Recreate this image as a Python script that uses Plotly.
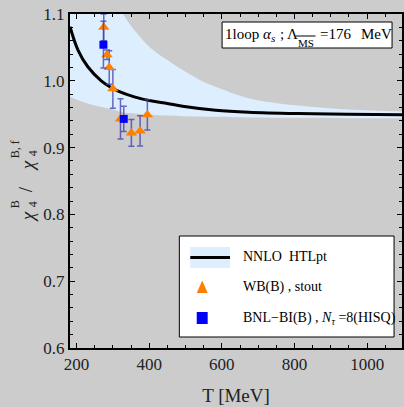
import plotly.graph_objects as go

# ---------------- data ----------------
band_T = [182, 200, 225, 250, 275, 300, 328, 359, 404, 450, 492, 537, 583, 674, 810, 947, 1096]
band_upper = [1.40, 1.33, 1.26, 1.20, 1.16, 1.13, 1.100, 1.076, 1.049, 1.031, 1.016, 1.002, 0.991, 0.974, 0.963, 0.957, 0.954]
band_lower = [0.976, 0.972, 0.967, 0.963, 0.960, 0.957, 0.953, 0.951, 0.949, 0.948, 0.947, 0.9465, 0.946, 0.945, 0.9445, 0.944, 0.944]

line_T = [182, 204, 231, 268, 295, 313, 359, 404, 450, 492, 583, 674, 810, 947, 1096]
line_val = [1.081, 1.046, 1.021, 1.000, 0.990, 0.985, 0.976, 0.970, 0.966, 0.962, 0.956, 0.953, 0.951, 0.950, 0.949]

wb_T = [275, 284, 290, 300, 321, 351, 375, 395]
wb_val = [1.080, 1.039, 1.020, 0.988, 0.943, 0.922, 0.925, 0.949]
wb_err = [0.020, 0.007, 0.025, 0.029, 0.030, 0.020, 0.0225, 0.0225]

bnl_T = [274, 330]
bnl_val = [1.054, 0.943]
bnl_err = [0.035, 0.019]

x_ticks = [200, 400, 600, 800, 1000]
y_ticks = [0.6, 0.7, 0.8, 0.9, 1.0, 1.1]

# ---------------- layout helpers ----------------
W, H = 404, 407
L, R, T, B = 70, 404, 14, 348
SERIF = "Liberation Serif"
BG = "#cccccc"
BAND = "#ddeeff"
ORANGE = "#ff8000"
ERRC = "rgba(60,60,170,0.75)"


def px(x):
    return (x - L) / (R - L)


def py(y):
    return (B - y) / (B - T)


fig = go.Figure()

fig.add_trace(go.Scatter(x=band_T, y=band_lower, mode="lines", line=dict(width=0, shape="spline"),
                         hoverinfo="skip", showlegend=False))
fig.add_trace(go.Scatter(x=band_T, y=band_upper, mode="lines", line=dict(width=0, shape="spline"),
                         fill="tonexty", fillcolor=BAND, hoverinfo="skip", showlegend=False))
fig.add_trace(go.Scatter(x=line_T, y=line_val, mode="lines", line=dict(color="black", width=3, shape="spline"),
                         showlegend=False))
fig.add_trace(go.Scatter(x=wb_T, y=wb_val, mode="markers",
                         marker=dict(symbol="triangle-up", size=10, color=ORANGE, line=dict(width=0)),
                         error_y=dict(type="data", array=wb_err, color=ERRC, thickness=1.5, width=3),
                         showlegend=False))
fig.add_trace(go.Scatter(x=bnl_T, y=bnl_val, mode="markers",
                         marker=dict(symbol="square", size=8, color="#0000ff", line=dict(width=0)),
                         error_y=dict(type="data", array=bnl_err, color=ERRC, thickness=1.5, width=3),
                         showlegend=False))

shapes = []
annos = []

# top-right info box
shapes.append(dict(type="rect", xref="paper", yref="paper", x0=px(223), x1=px(394), y0=py(22), y1=py(48),
                   fillcolor="white", line=dict(color="black", width=1), layer="above"))
boxfont = dict(family=SERIF, size=15, color="black")
subfont = dict(family=SERIF, size=11, color="black")
box_pieces = [
    ("1loop", 224, 33.5, boxfont),
    ("<i>α</i>", 262, 33.5, boxfont),
    ("<i>s</i>", 270, 38, subfont),
    (";", 279, 33.5, boxfont),
    ("Λ", 286, 33.5, boxfont),
    ("MS", 297, 43, subfont),
    ("=176", 319, 33.5, boxfont),
    ("MeV", 361, 33.5, boxfont),
]
for txt, x, y, f in box_pieces:
    annos.append(dict(xref="paper", yref="paper", x=px(x), y=py(y), xanchor="left", yanchor="middle",
                      showarrow=False, text=txt, font=f))
# overline over MS
shapes.append(dict(type="line", xref="paper", yref="paper", x0=px(297), x1=px(317), y0=py(36), y1=py(36),
                   line=dict(color="black", width=1), layer="above"))

# legend box
shapes.append(dict(type="rect", xref="paper", yref="paper", x0=px(180), x1=px(396), y0=py(236), y1=py(337),
                   fillcolor="white", line=dict(color="black", width=1), layer="above"))
shapes.append(dict(type="rect", xref="paper", yref="paper", x0=px(191), x1=px(231), y0=py(247), y1=py(268),
                   fillcolor=BAND, line=dict(width=0), layer="above"))
shapes.append(dict(type="line", xref="paper", yref="paper", x0=px(191), x1=px(231), y0=py(257.5), y1=py(257.5),
                   line=dict(color="black", width=3), layer="above"))
# legend triangle
tx, ty = 203, 287
shapes.append(dict(type="path", xref="paper", yref="paper",
                   path=f"M {px(tx-5.5)},{py(ty+6)} L {px(tx+5.5)},{py(ty+6)} L {px(tx)},{py(ty-6.5)} Z",
                   fillcolor=ORANGE, line=dict(width=0), layer="above"))
# legend square
sx, sy = 203, 318
shapes.append(dict(type="rect", xref="paper", yref="paper", x0=px(sx-5.5), x1=px(sx+5.5), y0=py(sy-6), y1=py(sy+6),
                   fillcolor="#0000ff", line=dict(width=0), layer="above"))

leg_font = dict(family=SERIF, size=14, color="black")
annos.append(dict(xref="paper", yref="paper", x=px(242), y=py(256), xanchor="left", yanchor="middle",
                  showarrow=False, text="NNLO  HTLpt", font=leg_font))
annos.append(dict(xref="paper", yref="paper", x=px(242), y=py(287), xanchor="left", yanchor="middle",
                  showarrow=False, text="WB(B) , stout", font=leg_font))
annos.append(dict(xref="paper", yref="paper", x=px(242), y=py(318), xanchor="left", yanchor="middle",
                  showarrow=False, text="BNL−BI(B) , <i>N</i><sub><i>τ</i></sub> =8(HISQ)", font=leg_font))

# y-axis title built from pieces (rotated)
big = dict(family=SERIF, size=19, color="#222222")
small = dict(family=SERIF, size=12, color="#222222")
pieces = [
    ("<i>χ</i>", 27, 217, big),
    ("4", 33, 204, small),
    ("B", 15, 204, small),
    ("/", 25, 189, big),
    ("<i>χ</i>", 27, 166, big),
    ("4", 33, 153, small),
    ("B, f", 15, 149, small),
]
for txt, x, y, f in pieces:
    annos.append(dict(xref="paper", yref="paper", x=px(x), y=py(y), xanchor="center", yanchor="middle",
                      showarrow=False, text=txt, textangle=-90, font=f))

fig.update_layout(
    width=W, height=H,
    margin=dict(l=L, r=W - R, t=T, b=H - B),
    paper_bgcolor=BG, plot_bgcolor=BG,
    showlegend=False,
    shapes=shapes, annotations=annos,
    font=dict(family=SERIF, color="#222222"),
)

fig.update_xaxes(range=[182, 1096], tickvals=x_ticks, ticktext=[str(v) for v in x_ticks],
                 ticks="inside", ticklen=5, tickwidth=1, tickcolor="black",
                 minor=dict(dtick=50, tick0=0, ticks="inside", ticklen=3, tickcolor="black", tickwidth=1),
                 showline=True, linecolor="black", linewidth=2, mirror="ticks",
                 showgrid=False, zeroline=False,
                 tickfont=dict(family=SERIF, size=17, color="#222222"),
                 title=dict(text="T [MeV]", font=dict(family=SERIF, size=19, color="#222222"), standoff=15))
fig.update_yaxes(range=[0.6, 1.1], tickvals=y_ticks, ticktext=[f"{v:.1f}" for v in y_ticks],
                 ticks="inside", ticklen=5, tickwidth=1, tickcolor="black",
                 minor=dict(dtick=0.02, tick0=0.6, ticks="inside", ticklen=3, tickcolor="black", tickwidth=1),
                 showline=True, linecolor="black", linewidth=2, mirror="ticks",
                 showgrid=False, zeroline=False,
                 tickfont=dict(family=SERIF, size=17, color="#222222"))

fig.write_html("out.html")
